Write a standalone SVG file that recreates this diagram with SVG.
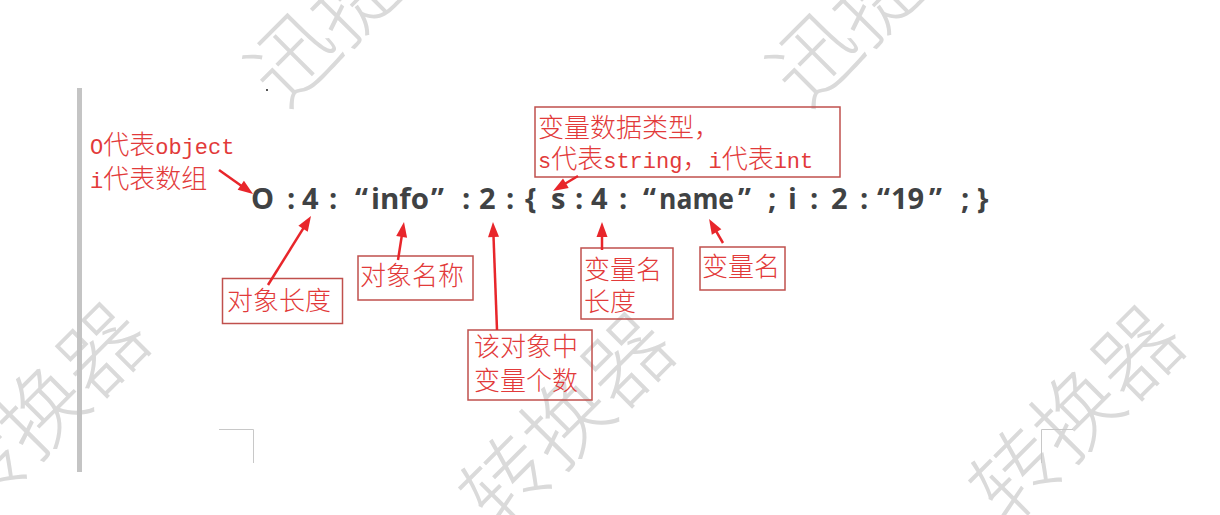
<svg xmlns="http://www.w3.org/2000/svg" width="1220" height="515" viewBox="0 0 1220 515">
<style>
.wm{font-family:"Noto Sans CJK SC",sans-serif;font-size:86px;font-weight:300;fill:#dadada}
.code{font-family:"Open Sans","Liberation Sans",sans-serif;font-weight:700;font-size:29px;fill:#404244}
.note{font-family:"Noto Sans CJK SC",sans-serif;font-size:26px;font-weight:300;fill:#e23a3a}
.lat{font-family:"Liberation Mono","Noto Sans CJK SC",monospace;font-size:22px}
.box{fill:none;stroke:#c0504d;stroke-width:1.5}
.arrow{stroke:#e8262b;stroke-width:2.5;fill:none;marker-end:url(#ah)}
.mark{stroke:#c8c8c8;stroke-width:1;fill:none}
</style>
<defs>
<marker id="ah" markerUnits="userSpaceOnUse" markerWidth="15" markerHeight="11" refX="1" refY="5.5" orient="auto" overflow="visible">
<path d="M0,0 L15,5.5 L0,11 z" fill="#e8262b"/>
</marker>
</defs>
<rect width="1220" height="515" fill="#ffffff"/>
<g id="watermarks">
<text class="wm" transform="translate(293,58) rotate(-45)" x="-43" y="31">迅捷</text>
<text class="wm" transform="translate(815,58) rotate(-45)" x="-43" y="31">迅捷</text>
<text class="wm" transform="translate(103,350) rotate(-45)" x="43" y="31" text-anchor="end">转换器</text>
<text class="wm" transform="translate(628,360) rotate(-45)" x="43" y="31" text-anchor="end">转换器</text>
<text class="wm" transform="translate(1138,353) rotate(-45)" x="43" y="31" text-anchor="end">转换器</text>
</g>
<g id="page">
<rect x="77" y="88" width="5" height="384" fill="#c4c4c4"/>
<rect x="266" y="89" width="2" height="2" fill="#555555"/>
<path class="mark" d="M219,429.5 H253.5 V463"/>
<path class="mark" d="M1073,429.5 H1041.5 V463"/>
</g>
<g id="serialized">
<text class="code" y="209"><tspan x="251">O</tspan><tspan x="287">:</tspan><tspan x="302">4</tspan><tspan x="329">:</tspan><tspan x="355">“</tspan><tspan x="431">”</tspan><tspan x="462">:</tspan><tspan x="479">2</tspan><tspan x="506">:</tspan><tspan x="525">{</tspan><tspan x="551">s</tspan><tspan x="575">:</tspan><tspan x="591">4</tspan><tspan x="619">:</tspan><tspan x="643">“</tspan><tspan x="738">”</tspan><tspan x="768">;</tspan><tspan x="788">i</tspan><tspan x="810">:</tspan><tspan x="831">2</tspan><tspan x="860">:</tspan><tspan x="877">“</tspan><tspan x="891">19</tspan><tspan x="929">”</tspan><tspan x="961">;</tspan><tspan x="977">}</tspan></text>
<text class="code" x="371" y="209" textLength="58" lengthAdjust="spacingAndGlyphs">info</text>
<text class="code" x="659" y="209" textLength="75" lengthAdjust="spacingAndGlyphs">name</text>
</g>
<g id="note-type">
<text class="note" x="90" y="154"><tspan class="lat">O</tspan>代表<tspan class="lat">object</tspan></text>
<text class="note" x="90" y="188"><tspan class="lat">i</tspan>代表数组</text>
</g>
<g id="note-vartype">
<rect class="box" x="535" y="107" width="305" height="70"/>
<text class="note" x="538" y="137">变量数据类型，</text>
<text class="note" x="538" y="168"><tspan class="lat">s</tspan>代表<tspan class="lat">string</tspan>，<tspan class="lat">i</tspan>代表<tspan class="lat">int</tspan></text>
</g>
<g id="note-objlen">
<rect class="box" x="222.5" y="278.5" width="120" height="45"/>
<text class="note" x="227" y="310">对象长度</text>
</g>
<g id="note-objname">
<rect class="box" x="358" y="256" width="115" height="44"/>
<text class="note" x="360" y="285">对象名称</text>
</g>
<g id="note-count">
<rect class="box" x="468" y="330" width="124" height="70"/>
<text class="note" x="474" y="356">该对象中</text>
<text class="note" x="474" y="390">变量个数</text>
</g>
<g id="note-varnamelen">
<rect class="box" x="581" y="248" width="92" height="71"/>
<text class="note" x="584" y="279">变量名</text>
<text class="note" x="584" y="311">长度</text>
</g>
<g id="note-varname">
<rect class="box" x="700" y="247" width="85" height="43"/>
<text class="note" x="702" y="276">变量名</text>
</g>
<g id="connectors">
<line class="arrow" x1="219" y1="170" x2="241.6" y2="185.9"/>
<line class="arrow" x1="268" y1="285" x2="303.6" y2="227.9"/>
<line class="arrow" x1="398" y1="260" x2="401.8" y2="235.8"/>
<line class="arrow" x1="497" y1="330" x2="493.5" y2="236"/>
<line class="arrow" x1="602" y1="250" x2="602" y2="236"/>
<line class="arrow" x1="578" y1="176" x2="565" y2="183.8"/>
<line class="arrow" x1="723" y1="243" x2="716.1" y2="231.1"/>
</g>
</svg>
